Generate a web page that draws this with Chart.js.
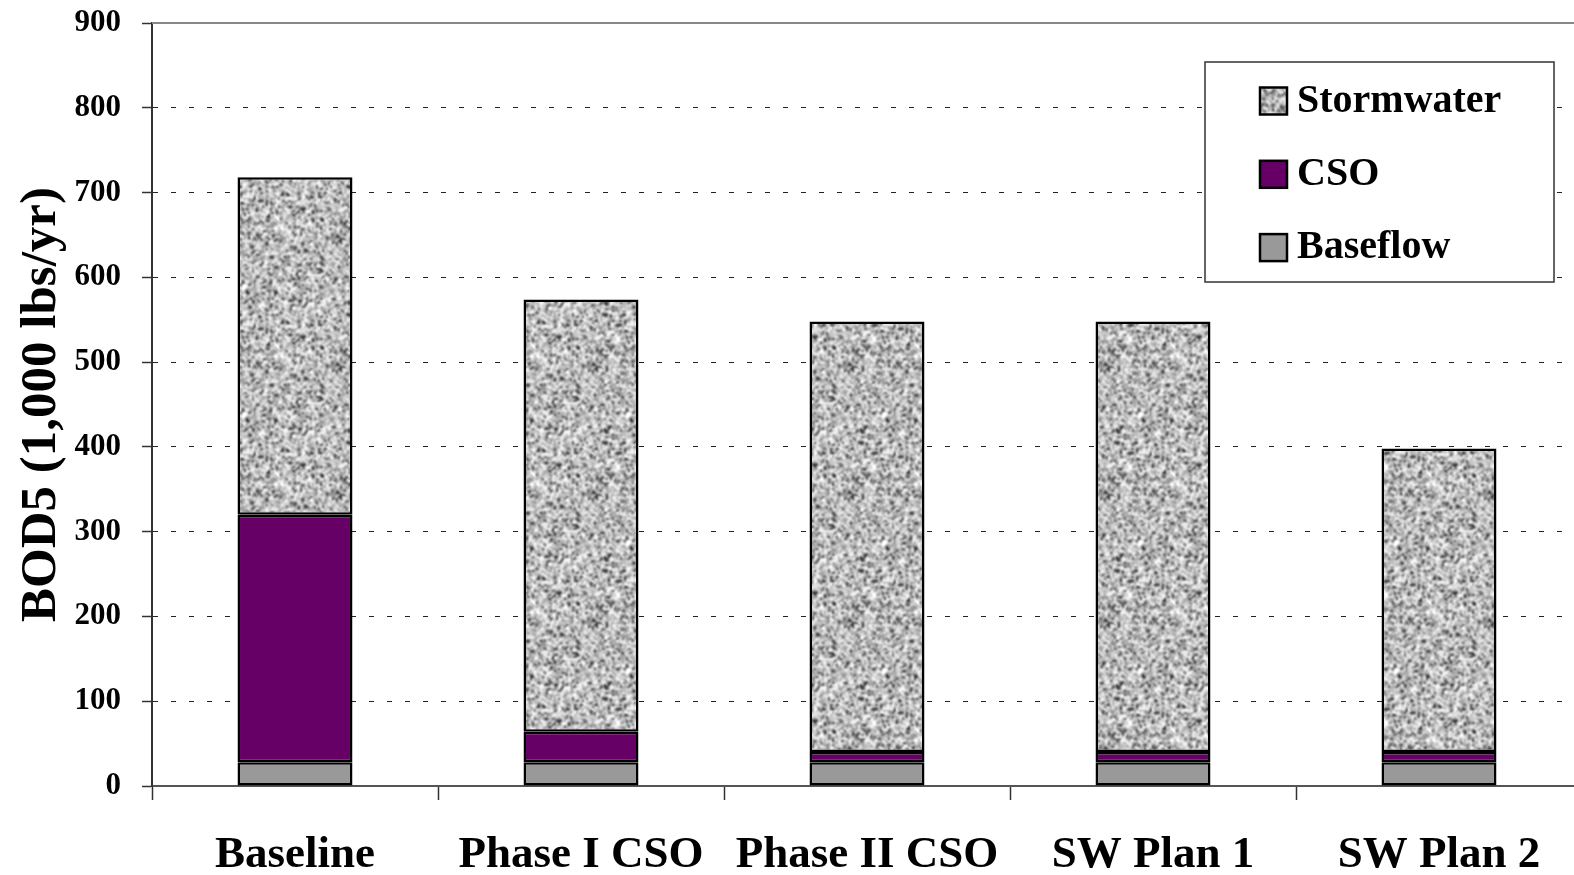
<!DOCTYPE html>
<html>
<head>
<meta charset="utf-8">
<script src="https://cdn.jsdelivr.net/npm/chart.js@4/dist/chart.umd.min.js"></script>
<style>
  html, body { margin: 0; padding: 0; background: #fff; overflow: hidden; }
  #wrap { width: 1574px; height: 875px; overflow: hidden; }
</style>
</head>
<body>
<!-- el area de trazado sigue un poco mas alla del borde derecho, como en el original -->
<div id="wrap"><canvas id="grafico" width="1582" height="875"></canvas></div>
<script>
// categorias y valores (1,000 lbs/yr)
const categorias = ['Baseline', 'Phase I CSO', 'Phase II CSO', 'SW Plan 1', 'SW Plan 2'];
const baseflow = [28, 28, 28, 28, 28];
const cso = [292, 36, 12, 12, 12];
const stormwater = [398, 510, 508, 508, 358];
const ticksY = [0, 100, 200, 300, 400, 500, 600, 700, 800, 900];

const fuente = '"Liberation Serif", "Times New Roman", serif';

// textura gris moteada para Stormwater (ruido fijo, solo apariencia)
function crearTextura() {
  const size = 128;
  const c = document.createElement('canvas');
  c.width = size; c.height = size;
  const g = c.getContext('2d');
  let seed = 24680;
  function rnd() {
    seed = (seed * 1103515245 + 12345) & 0x7fffffff;
    return seed / 0x7fffffff;
  }
  const img = g.createImageData(size, size);
  for (let y = 0; y < size; y += 2) {
    for (let x = 0; x < size; x += 2) {
      const v = rnd();
      let gris = 112 + v * 135;
      if (v < 0.1) gris = 30 + v * 400;
      for (let dy = 0; dy < 2; dy++) {
        for (let dx = 0; dx < 2; dx++) {
          const k = ((y + dy) * size + x + dx) * 4;
          img.data[k] = img.data[k + 1] = img.data[k + 2] = gris;
          img.data[k + 3] = 255;
        }
      }
    }
  }
  g.putImageData(img, 0, 0);
  // suavizado para que parezcan manchas
  const c2 = document.createElement('canvas');
  c2.width = size; c2.height = size;
  const g2 = c2.getContext('2d');
  g2.fillStyle = '#aaaaaa';
  g2.fillRect(0, 0, size, size);
  g2.filter = 'blur(0.9px) contrast(1.25)';
  for (let ox = -1; ox <= 1; ox++) {
    for (let oy = -1; oy <= 1; oy++) g2.drawImage(c, ox * size, oy * size);
  }
  return g2.createPattern(c2, 'repeat');
}

const ctx = document.getElementById('grafico').getContext('2d');
const texturaStorm = crearTextura();

// leyenda dibujada dentro del area del grafico, arriba a la derecha
const leyendaCaja = {
  id: 'leyendaCaja',
  afterDraw(chart) {
    const c = chart.ctx;
    const x = 1205, y = 62, w = 349, h = 220;
    c.save();
    c.fillStyle = '#fff';
    c.fillRect(x, y, w, h);
    c.strokeStyle = '#333';
    c.lineWidth = 1.5;
    c.strokeRect(x, y, w, h);
    const orden = chart.data.datasets.slice().reverse();
    orden.forEach((ds, i) => {
      const cy = 100.5 + i * 73.3;
      c.fillStyle = ds.backgroundColor;
      c.fillRect(1260, cy - 13, 27, 27);
      c.strokeStyle = '#000';
      c.lineWidth = 2.5;
      c.strokeRect(1260, cy - 13, 27, 27);
      c.fillStyle = '#000';
      c.font = 'bold 40px ' + fuente;
      c.textBaseline = 'middle';
      c.fillText(ds.label, 1297, cy + 1);
    });
    c.restore();
  }
};

// linea superior solida en 900
const bordeSuperior = {
  id: 'bordeSuperior',
  beforeDatasetsDraw(chart) {
    const c = chart.ctx;
    const a = chart.chartArea;
    const yy = chart.scales.y.getPixelForValue(900);
    c.save();
    c.strokeStyle = '#888';
    c.lineWidth = 2;
    c.beginPath();
    c.moveTo(a.left, yy);
    c.lineTo(a.right, yy);
    c.stroke();
    c.restore();
  }
};

const chart = new Chart(ctx, {
  type: 'bar',
  data: {
    labels: categorias,
    datasets: [
      { label: 'Baseflow', data: baseflow, backgroundColor: '#999999', borderColor: '#000', borderWidth: 2.5, borderSkipped: false },
      { label: 'CSO', data: cso, backgroundColor: '#660066', borderColor: '#000', borderWidth: 2.5, borderSkipped: false },
      { label: 'Stormwater', data: stormwater, backgroundColor: texturaStorm, borderColor: '#000', borderWidth: 2.5, borderSkipped: false }
    ]
  },
  options: {
    responsive: false,
    animation: false,
    layout: { padding: { top: 23, right: 0, left: 0, bottom: 0 } },
    datasets: { bar: { categoryPercentage: 1, barPercentage: 0.402 } },
    plugins: {
      legend: { display: false },
      tooltip: { enabled: false }
    },
    scales: {
      x: {
        stacked: true,
        afterFit(scale) { scale.height = 89; scale.paddingLeft = 0; scale.paddingRight = 0; },
        grid: {
          offset: true,
          drawOnChartArea: false,
          tickLength: 14,
          tickColor: '#333',
          tickWidth: 1.5
        },
        border: { display: true, color: '#555', width: 2 },
        ticks: {
          color: '#000',
          padding: 28,
          maxRotation: 0,
          font: { family: fuente, size: 45, weight: 'bold' }
        }
      },
      y: {
        stacked: true,
        min: 0,
        max: 900,
        afterFit(scale) { scale.width = 152; scale.paddingTop = 0; scale.paddingBottom = 0; },
        afterBuildTicks(scale) { scale.ticks = ticksY.map(v => ({ value: v })); },
        grid: {
          color: ctx2 => (ctx2.tick && (ctx2.tick.value === 900 || ctx2.tick.value === 0)) ? 'rgba(0,0,0,0)' : '#222',
          lineWidth: 1,
          tickLength: 10,
          tickColor: '#333',
          tickWidth: 1.5,
          tickBorderDash: [100, 0]
        },
        border: { display: true, color: '#333', width: 2, dash: [5, 13] },
        ticks: {
          color: '#000',
          padding: 21,
          font: { family: fuente, size: 31, weight: 'bold' }
        },
        title: {
          display: true,
          text: 'BOD5 (1,000 lbs/yr)',
          color: '#000',
          padding: { top: 11, bottom: 0 },
          font: { family: fuente, size: 51, weight: 'bold', lineHeight: 1.2 }
        }
      }
    }
  },
  plugins: [bordeSuperior, leyendaCaja]
});
</script>
</body>
</html>
